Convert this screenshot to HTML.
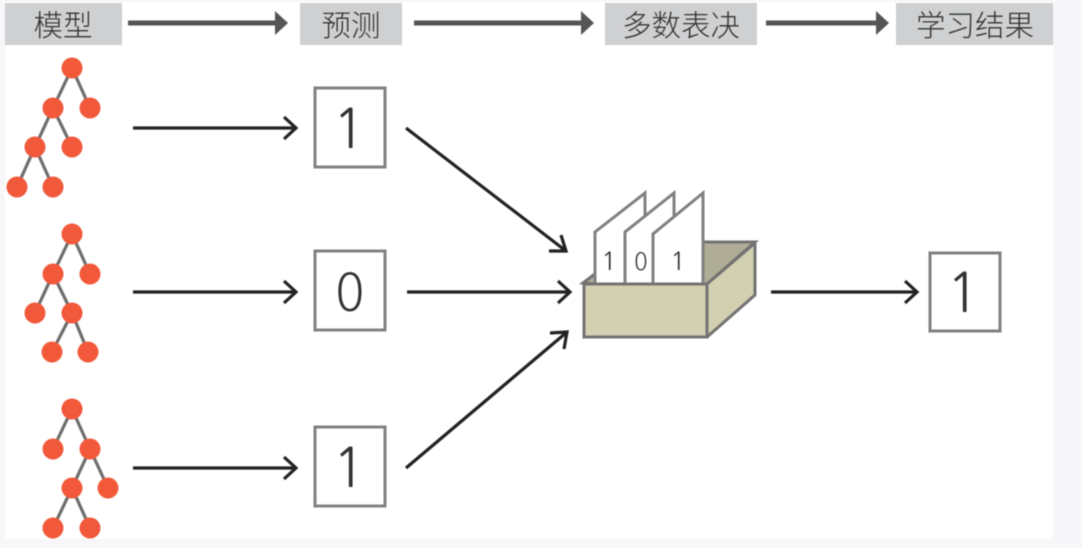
<!DOCTYPE html>
<html><head><meta charset="utf-8">
<style>
html,body{margin:0;padding:0;background:#f7f7fa;width:1082px;height:548px;overflow:hidden}
svg{display:block;filter:blur(.5px)}
.h{font-family:"Liberation Sans","Noto Sans CJK SC",sans-serif;font-size:29.500px;font-weight:300;fill:#333;text-anchor:middle}
.n{font-family:"NanumGothic","Noto Sans CJK SC",sans-serif;fill:#333;text-anchor:middle}
.z{font-family:"Noto Sans CJK SC","Liberation Sans",sans-serif;font-weight:300;fill:#333;text-anchor:middle}
.a{fill:none;stroke:#222;stroke-width:3.200}
.t{stroke:#6e6e6e;stroke-width:3.200}
.c{fill:#f2593a}
.b{fill:#fff;stroke:#808080;stroke-width:3}
</style></head><body>
<svg width="1082" height="548" viewBox="0 0 1082 548" xmlns="http://www.w3.org/2000/svg">
<rect x="5" y="2" width="1048" height="537" fill="#fff"/>
<g fill="#cfd0d2">
<rect x="5" y="3" width="117" height="42"/><rect x="300" y="3" width="102" height="42"/>
<rect x="605" y="3" width="152" height="42"/><rect x="896" y="3" width="157" height="42"/>
</g>
<text class="h" x="63" y="36">模型</text>
<text class="h" x="351" y="36">预测</text>
<text class="h" x="681" y="36">多数表决</text>
<text class="h" x="975" y="36">学习结果</text>
<g fill="#555" stroke="none">
<path d="M128 20.500H275V11L288 23 275 35V25.500H128Z"/>
<path d="M414 20.500H581V11L594 23 581 35V25.500H414Z"/>
<path d="M766 20.500H876V11L889 23 876 35V25.500H766Z"/>
</g>
<!-- tree 1 -->
<g class="t"><path d="M72 68L53 108M72 68L90 108M53 108L35 147M53 108L72 147M35 147L17 187M35 147L53 187"/></g>
<g class="c"><circle cx="72" cy="68" r="10.500"/><circle cx="53" cy="108" r="10.500"/><circle cx="90" cy="108" r="10.500"/><circle cx="35" cy="147" r="10.500"/><circle cx="72" cy="147" r="10.500"/><circle cx="17" cy="187" r="10.500"/><circle cx="53" cy="187" r="10.500"/></g>
<!-- tree 2 -->
<g class="t"><path d="M72 234L53 274M72 234L90 274M53 274L35 313M53 274L72 313M72 313L52 352M72 313L88 352"/></g>
<g class="c"><circle cx="72" cy="234" r="10.500"/><circle cx="53" cy="274" r="10.500"/><circle cx="90" cy="274" r="10.500"/><circle cx="35" cy="313" r="10.500"/><circle cx="72" cy="313" r="10.500"/><circle cx="52" cy="352" r="10.500"/><circle cx="88" cy="352" r="10.500"/></g>
<!-- tree 3 -->
<g class="t"><path d="M72 409L53 449M72 409L90 449M90 449L72 488M90 449L108 488M72 488L53 528M72 488L90 528"/></g>
<g class="c"><circle cx="72" cy="409" r="10.500"/><circle cx="53" cy="449" r="10.500"/><circle cx="90" cy="449" r="10.500"/><circle cx="72" cy="488" r="10.500"/><circle cx="108" cy="488" r="10.500"/><circle cx="53" cy="528" r="10.500"/><circle cx="90" cy="528" r="10.500"/></g>
<!-- arrows -->
<g class="a">
<path d="M133 128H296M284 117L296 128 284 139"/>
<path d="M133 292H296M284 281L296 292 284 303"/>
<path d="M133 468H296M284 457L296 468 284 479"/>
<path d="M406 128L566 251M561 235L566 251 549 251"/>
<path d="M407 292H570M558 281L570 292 558 303"/>
<path d="M406 468L567 332M550 333L567 332 564 349"/>
<path d="M771 292H917M905 281L917 292 905 303"/>
</g>
<!-- boxes -->
<rect class="b" x="315" y="88" width="70" height="79"/>
<rect class="b" x="315" y="251" width="70" height="79"/>
<rect class="b" x="315" y="427" width="70" height="79"/>
<rect class="b" x="930" y="253" width="70" height="78"/>
<text class="n" x="349" y="148" font-size="54">1</text>
<text class="z" x="350" y="311" font-size="54">0</text>
<text class="n" x="349" y="487" font-size="54">1</text>
<text class="n" x="963" y="312" font-size="54">1</text>
<!-- crate -->
<path d="M583 283L596 273V284Z" fill="#b0ad96" stroke="#737373" stroke-width="3"/>
<path d="M700 242H755L707 284H700Z" fill="#b0ad96" stroke="#737373" stroke-width="3"/>
<path d="M595 284V232L645 193V284Z" fill="#fff" stroke="#808080" stroke-width="3"/>
<path d="M625 284V232L674 193V284Z" fill="#fff" stroke="#808080" stroke-width="3"/>
<path d="M653 284V234L703 193V284Z" fill="#fff" stroke="#808080" stroke-width="3"/>
<text class="n" x="609" y="270" font-size="25">1</text>
<text class="z" x="641" y="270" font-size="25">0</text>
<text class="n" x="678" y="270" font-size="25">1</text>
<path d="M707 284L755 243V295L707 337Z" fill="#d3d0b2" stroke="#737373" stroke-width="3" stroke-linejoin="round"/>
<rect x="584" y="284" width="123" height="53" fill="#d3d0b2" stroke="#737373" stroke-width="3"/>
</svg>
</body></html>
